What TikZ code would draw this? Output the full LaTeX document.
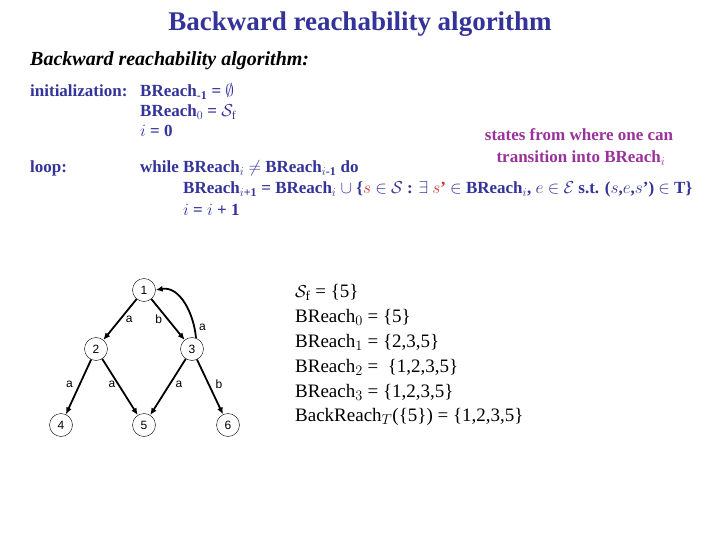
\documentclass[tikz,border=0pt]{standalone}
\usepackage{amsmath}
\usepackage{fontspec}
\setmainfont{Liberation Serif}
\setsansfont{Liberation Sans}
\usetikzlibrary{arrows.meta,positioning}
\definecolor{algblue}{HTML}{333399}
\definecolor{notepurple}{HTML}{993399}
\definecolor{setred}{HTML}{CC3333}

\begin{document}
\begin{tikzpicture}[x=1pt, y=-1pt,
  title/.style={anchor=base, inner sep=0pt, font=\fontsize{27}{30}\selectfont\bfseries, text=algblue},
  subtitle/.style={anchor=base west, inner sep=0pt, font=\fontsize{20}{23}\selectfont\bfseries\itshape},
  alg/.style={anchor=base west, inner sep=0pt, font=\fontsize{17}{20}\selectfont\bfseries, text=algblue},
  note/.style={anchor=base, inner sep=0pt, font=\fontsize{17}{20}\selectfont\bfseries, text=notepurple},
  res/.style={anchor=base west, inner sep=0pt, font=\fontsize{19}{22}\selectfont},
  state/.style={draw, circle, minimum size=23pt, inner sep=0pt, font=\fontsize{12}{14}\selectfont\sffamily},
  lbl/.style={font=\fontsize{12}{14}\selectfont\sffamily, inner sep=1pt},
  arr/.style={-{Latex[length=7pt,width=6pt]}, line width=1.8pt}
]
\useasboundingbox (0,0) rectangle (720,540);

% heading
\node[title] (head) at (360,31) {Backward reachability algorithm};
\node[subtitle] (sub) at (30,66) {Backward reachability algorithm:};

% algorithm
\node[alg] (init) at (30,97) {initialization:};
\node[alg] (init1) at (140,97) {BReach$_{\text{-1}}$ = $\emptyset$};
\node[alg] (init2) at (140,117) {BReach$_0$ = $\mathcal{S}_{\mathrm{f}}$};
\node[alg] (init3) at (140,137) {$i$ = 0};
\node[alg] (loop) at (30,173) {loop:};
\node[alg] (loop1) at (140,173) {while BReach$_i$ $\neq$ BReach$_{i\text{-1}}$ do};
\node[alg] (loop2) at (183,194) {BReach$_{i\text{+1}}$ = BReach$_i$ $\cup$ \{\textcolor{setred}{$s$} $\in$ $\mathcal{S}$ : $\exists$ \textcolor{setred}{$s$’} $\in$ BReach$_i$, $e$ $\in$ $\mathcal{E}$ s.t. ($s$,$e$,$s$’) $\in$ T\}};
\node[alg] (loop3) at (183,215) {$i$ = $i$ + 1};

% annotation
\node[note] (note1) at (579,141) {states from where one can};
\node[note] (note2) at (581,163) {transition into BReach$_i$};

% transition system
\node[state] (n1) at (144,290) {1};
\node[state] (n2) at (96,349) {2};
\node[state] (n3) at (192,349) {3};
\node[state] (n4) at (61,425) {4};
\node[state] (n5) at (144,425) {5};
\node[state] (n6) at (228,425) {6};

\draw[arr] (n1) -- node[lbl, right=4pt, pos=.5] {a} (n2);
\draw[arr] (n1) -- node[lbl, left=4pt, pos=.5] {b} (n3);
\draw[arr] (n3.70) to[out=95, in=10] node[lbl, right=3pt, pos=.15] {a} (n1.east);
\draw[arr] (n2) -- node[lbl, left=5pt, pos=.45] {a} (n4);
\draw[arr] (n2) -- node[lbl, left=1pt, pos=.45] {a} (n5);
\draw[arr] (n3) -- node[lbl, right=4pt, pos=.45] {a} (n5);
\draw[arr] (n3) -- node[lbl, right=5pt, pos=.45] {b} (n6);

% results
\node[res] (r0) at (295,297) {$\mathcal{S}_{\mathrm{f}}$ = \{5\}};
\node[res] (r1) at (295,322) {BReach$_0$ = \{5\}};
\node[res] (r2) at (295,347) {BReach$_1$ = \{2,3,5\}};
\node[res] (r3) at (295,372) {BReach$_2$ =\hspace{0.5em}\{1,2,3,5\}};
\node[res] (r4) at (295,397) {BReach$_3$ = \{1,2,3,5\}};
\node[res] (r5) at (295,421) {BackReach$_T$(\{5\}) = \{1,2,3,5\}};
\end{tikzpicture}
\end{document}
